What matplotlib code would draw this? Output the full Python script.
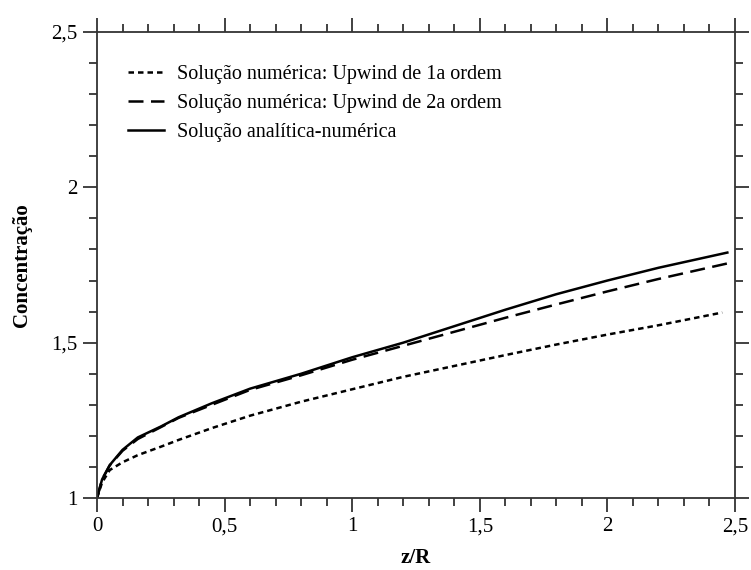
import matplotlib
matplotlib.use("Agg")
from matplotlib import pyplot as plt
from matplotlib.ticker import MultipleLocator, FuncFormatter

# values
z_r = [0.0, 0.02, 0.05, 0.10, 0.16, 0.25, 0.32, 0.45, 0.60, 0.80,
       1.00, 1.20, 1.40, 1.60, 1.80, 2.00, 2.20, 2.47]
upwind_1a = [1.0, 1.05, 1.09, 1.115, 1.138, 1.165, 1.187, 1.225, 1.265, 1.31,
             1.35, 1.39, 1.425, 1.46, 1.494, 1.526, 1.556, 1.597]
upwind_2a = [1.0, 1.06, 1.105, 1.152, 1.19, 1.228, 1.258, 1.30, 1.348, 1.395,
             1.445, 1.49, 1.535, 1.58, 1.623, 1.665, 1.705, 1.755]
analitica = [1.0, 1.06, 1.106, 1.155, 1.195, 1.23, 1.26, 1.305, 1.352, 1.40,
             1.453, 1.50, 1.553, 1.606, 1.656, 1.70, 1.741, 1.79]
labels = ["Solução numérica: Upwind de 1a ordem",
          "Solução numérica: Upwind de 2a ordem",
          "Solução analítica-numérica"]

plt.rcParams['font.family'] = ['Liberation Serif', 'DejaVu Serif']

fig = plt.figure(figsize=(7.51, 5.70), dpi=100)
ax = fig.add_axes([97 / 751, 72 / 570, 638 / 751, 466 / 570])

# the dotted one stops a bit earlier than the others
ax.plot(z_r[:-1] + [2.45], upwind_1a, color="black", lw=1.8,
        linestyle=(0, (2.2, 1.6)), label=labels[0])
ax.plot(z_r, upwind_2a, color="black", lw=1.8,
        linestyle=(0, (6, 3)), label=labels[1])
ax.plot(z_r, analitica, color="black", lw=1.8, linestyle="-", label=labels[2])

ax.set_xlim(0, 2.5)
ax.set_ylim(1, 2.5)
ax.xaxis.set_major_locator(MultipleLocator(0.5))
ax.xaxis.set_minor_locator(MultipleLocator(0.1))
ax.yaxis.set_major_locator(MultipleLocator(0.5))
ax.yaxis.set_minor_locator(MultipleLocator(0.1))
comma = FuncFormatter(lambda v, pos: f"{v:g}".replace(".", ","))
ax.xaxis.set_major_formatter(comma)
ax.yaxis.set_major_formatter(comma)

ax.tick_params(which="both", direction="out", top=True, right=True,
               labeltop=False, labelright=False, width=1.3, color="#333333")
ax.tick_params(which="major", length=10, labelsize=15, pad=4)
ax.tick_params(which="minor", length=6)
for s in ax.spines.values():
    s.set_linewidth(1.3)
    s.set_color("#333333")

ax.set_xlabel("z/R", fontsize=15, fontweight="bold", labelpad=8)
ax.set_ylabel("Concentração", fontsize=15, fontweight="bold", labelpad=14)

ax.legend(loc="upper left", frameon=False, fontsize=14.5, handlelength=1.8,
          handletextpad=0.6, labelspacing=0.5, borderaxespad=0.2,
          bbox_to_anchor=(0.03, 0.955))

fig.savefig("out.png", dpi=100)
